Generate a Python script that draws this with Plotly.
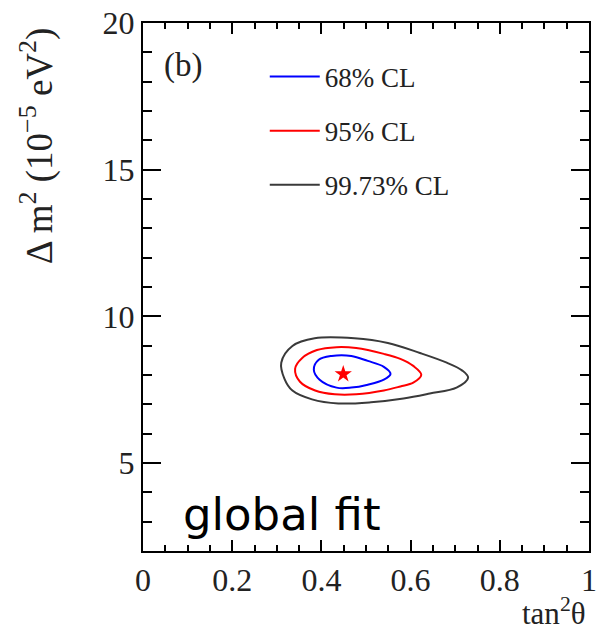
import plotly.graph_objects as go

# Contour outlines (tan^2 theta, delta m^2 in 1e-5 eV^2)
cl68_x = [0.383, 0.394, 0.423, 0.467, 0.504, 0.540, 0.555, 0.540, 0.504, 0.467, 0.434, 0.396, 0.383]
cl68_y = [8.18, 8.52, 8.65, 8.65, 8.48, 8.28, 8.04, 7.84, 7.67, 7.57, 7.57, 7.84, 8.18]

cl95_x = [0.341, 0.357, 0.390, 0.434, 0.478, 0.540, 0.577, 0.606, 0.624, 0.606, 0.577, 0.540, 0.478, 0.430, 0.386, 0.352, 0.341]
cl95_y = [8.21, 8.58, 8.85, 8.95, 8.92, 8.72, 8.55, 8.31, 8.01, 7.74, 7.61, 7.47, 7.34, 7.34, 7.47, 7.77, 8.21]

cl997_x = [0.310, 0.335, 0.385, 0.474, 0.549, 0.621, 0.681, 0.716, 0.729, 0.703, 0.643, 0.584, 0.511, 0.438, 0.379, 0.335, 0.317, 0.310]
cl997_y = [8.42, 8.99, 9.25, 9.25, 9.09, 8.75, 8.42, 8.15, 7.91, 7.57, 7.37, 7.20, 7.07, 7.03, 7.17, 7.47, 7.88, 8.42]

best_x = [0.449]
best_y = [8.03]

series_names = ["68% CL", "95% CL", "99.73% CL"]
series_colors = ["#0000ff", "#ff0000", "#3a3a3a"]

x_range = [0, 1]
y_range = [2, 20]
x_ticks = [0, 0.2, 0.4, 0.6, 0.8, 1]
x_ticklabels = ["0", "0.2", "0.4", "0.6", "0.8", "1"]
y_ticks = [5, 10, 15, 20]
y_ticklabels = ["5", "10", "15", "20"]

SERIF = "Liberation Serif"

fig = go.Figure()
for i, (xs, ys) in enumerate([(cl68_x, cl68_y), (cl95_x, cl95_y), (cl997_x, cl997_y)]):
    fig.add_trace(go.Scatter(
        x=xs, y=ys, mode="lines", name=series_names[i],
        line=dict(color=series_colors[i], width=2, shape="spline", smoothing=1.0),
        legendgroup=f"g{i}", showlegend=True,
    ))

fig.add_trace(go.Scatter(
    x=best_x, y=best_y, mode="markers", showlegend=False,
    marker=dict(symbol="star", size=13, color="#ff0000", line=dict(width=0)),
))

# empty trace so the mirrored top/right axes get drawn
fig.add_trace(go.Scatter(x=[None], y=[None], xaxis="x2", yaxis="y2",
                         mode="markers", showlegend=False, hoverinfo="skip"))

base = dict(
    showline=True, linecolor="black", linewidth=2, mirror=False,
    ticks="inside", tickcolor="black", tickwidth=2,
    showgrid=False, zeroline=False,
    tickfont=dict(family=SERIF, size=32, color="#222"),
)
xminor = dict(ticks="inside", ticklen=6, tickwidth=2, tickcolor="black", dtick=0.05, showgrid=False)
yminor = dict(ticks="inside", ticklen=9, tickwidth=2, tickcolor="black", dtick=1, showgrid=False)

fig.update_layout(
    xaxis=dict(range=x_range, tickvals=x_ticks, ticktext=x_ticklabels, ticklen=11,
               minor=xminor, ticklabeloverflow="allow", **base),
    yaxis=dict(range=y_range, tickvals=y_ticks, ticktext=y_ticklabels, ticklen=18,
               minor=yminor, **base),
    xaxis2=dict(range=x_range, tickvals=x_ticks, ticklen=11, minor=xminor,
                overlaying="x", side="top", showticklabels=False, **base),
    yaxis2=dict(range=y_range, tickvals=y_ticks, ticklen=18, minor=yminor,
                overlaying="y", side="right", showticklabels=False, **base),
)

fig.update_layout(
    width=601, height=633,
    margin=dict(l=143, r=4, t=23, b=82),
    paper_bgcolor="white", plot_bgcolor="white",
    showlegend=True,
    legend=dict(
        x=0.273, y=0.944, xanchor="left", yanchor="top",
        font=dict(family=SERIF, size=27, color="#222"),
        bgcolor="rgba(0,0,0,0)", borderwidth=0,
        tracegroupgap=16, itemwidth=50,
    ),
    annotations=[
        dict(text="Δ m<sup>2</sup> (10<sup>−5</sup> eV<sup>2</sup>)", textangle=-90,
             xref="paper", yref="paper", x=-0.236, y=0.768,
             xanchor="center", yanchor="middle", showarrow=False,
             font=dict(family=SERIF, size=37, color="#222")),
        dict(text="tan<sup>2</sup>θ", xref="paper", yref="paper", x=0.998, y=-0.114,
             xanchor="right", yanchor="middle", showarrow=False,
             font=dict(family=SERIF, size=31, color="#222")),
        dict(text="(b)", xref="paper", yref="paper", x=0.0903, y=0.9186,
             xanchor="center", yanchor="middle", showarrow=False,
             font=dict(family=SERIF, size=33, color="#222")),
        dict(text="global fit", xref="paper", yref="paper", x=0.086, y=0.07,
             xanchor="left", yanchor="middle", showarrow=False,
             font=dict(family="DejaVu Sans", size=45, color="black")),
    ],
)

fig.write_html("out.html")
